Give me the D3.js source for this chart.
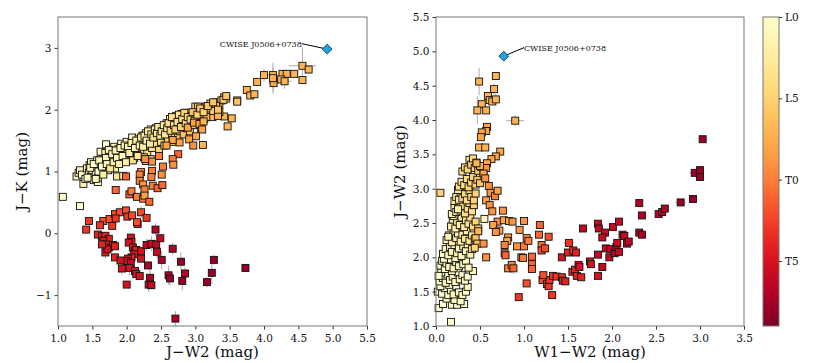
<!DOCTYPE html>
<html>
<head>
<meta charset="utf-8">
<script src="https://cdn.jsdelivr.net/npm/d3@7"></script>
<style>
body { margin: 0; background: #fff; }
text { font-family: "DejaVu Serif", serif; }
</style>
</head>
<body>
<script>
/*global d3*/

// data: [x, y, spectral type (0 = L0, 10 = T0), xerr, yerr]
const leftPts = [
  // upper right tail
  [3.90,2.45,7,0.05,0.05],[4.00,2.56,7,0.06,0.1],[4.13,2.56,7,0.08,0.12],[4.14,2.43,8,0.08,0.12],
  [4.13,2.51,7,0.06,0.25],[4.27,2.58,7,0.06,0.06],[4.33,2.58,7,0.06,0.06],[4.44,2.58,7,0.05,0.05],
  [4.25,2.49,7,0.1,0.1],[4.30,2.46,7,0.1,0.12],[4.56,2.71,7,0.2,0.3],[4.65,2.65,7,0.05,0.05],
  [4.56,2.48,7,0.05,0.06],[3.75,2.32,7],[3.80,2.23,7],[3.86,2.25,7],[3.61,2.15,7],[3.61,2.13,6],
  [3.53,1.86,7],[3.47,1.73,7],[3.42,1.89,7],[3.11,1.43,7],
  // main L band
  [1.07,0.59,0],[1.32,0.44,0],
  [1.27,0.92,1],[1.30,0.98,0],[1.32,1.02,1],[1.35,0.95,0],[1.37,0.80,1],[1.40,0.88,0],[1.42,1.05,1],
  [1.45,0.98,1],[1.46,1.10,0],[1.48,0.92,1],[1.50,1.02,1],[1.48,1.15,2],[1.52,0.86,0],[1.54,1.08,1],
  [1.55,0.97,1],[1.57,1.18,1],[1.58,0.83,0],[1.58,0.90,2],[1.60,1.05,1],[1.61,1.12,2],[1.63,1.25,1],
  [1.62,1.32,1,0.05,0.05],[1.65,0.98,1],[1.66,1.20,2],[1.68,1.08,1],[1.69,1.30,1],[1.70,1.44,0,0.06,0.05],
  [1.72,1.15,2],[1.73,1.02,1],[1.75,1.25,2],[1.77,1.35,1],[1.78,1.10,2],[1.80,1.20,1],[1.82,1.40,1],
  [1.83,1.05,2],[1.85,1.28,2],[1.87,1.15,1],[1.88,1.36,2],[1.90,1.22,2],[1.92,1.45,1],[1.93,1.30,2],
  [1.95,1.18,3],[1.96,1.38,2,0.05,0.05],[1.98,1.25,2],[2.00,1.48,1],[2.01,1.33,3],[2.03,1.20,2],
  [2.05,1.40,2],[2.06,1.28,3],[2.08,1.55,1],[2.10,1.35,2],[2.11,1.22,3],[2.13,1.45,2],[2.15,1.30,3],
  [2.17,1.52,2],[2.18,1.38,3],[2.20,1.25,3],[2.22,1.45,2],[2.23,1.58,2],[2.25,1.35,3],[2.27,1.48,3],
  [2.28,1.62,2],[2.30,1.30,4],[2.32,1.42,3],[2.33,1.55,3],[2.35,1.68,2],[2.37,1.38,4],[2.38,1.50,3],
  [2.40,1.62,3],[2.42,1.45,4],[2.43,1.70,3],[2.45,1.55,3],[2.47,1.35,5],[2.48,1.65,3],[2.50,1.48,4],
  [2.52,1.72,3],[2.53,1.58,4],[2.55,1.42,5],[2.57,1.67,4],[2.58,1.78,3],[2.60,1.52,5],[2.62,1.62,4],
  [2.63,1.85,3],[2.65,1.72,4],[2.67,1.48,6],[2.68,1.80,4],[2.70,1.60,5],[2.72,1.90,3],[2.73,1.70,5],
  [2.75,1.55,6],[2.77,1.85,4],[2.78,1.65,5],[2.80,1.93,4],[2.82,1.75,5],[2.83,1.60,6],[2.85,1.88,5],
  [2.87,1.70,6],[2.88,1.95,4],[2.90,1.80,5],[2.92,1.65,6],[2.95,1.90,5],[2.97,1.75,6],[3.00,2.05,5],
  [3.02,1.85,6],[3.05,1.95,5],[3.08,1.70,7],[3.10,2.00,6],[3.13,1.85,6],[3.15,2.05,6],[3.20,1.95,6],
  [3.22,2.10,6],[3.25,1.88,7],[3.28,2.03,6],[3.30,2.12,6],[3.35,2.08,6],[3.38,2.15,6],[3.42,2.20,6],
  [3.45,2.18,6],[3.41,2.16,6],[3.45,2.22,6],[3.18,2.02,6],[3.30,2.06,6],[3.26,1.98,6],[3.35,1.96,7],
  [3.33,1.90,7],[3.16,1.88,7],[3.06,1.90,6],[3.04,2.05,6],
  [2.28,1.17,6],[2.35,1.20,6],[2.25,1.23,6],[1.86,0.92,3],[1.95,0.93,2],
  [1.43,0.90,0],[1.47,1.06,1],[1.52,1.12,0],[1.55,0.88,1],[1.59,1.00,0],[1.60,1.18,1],[1.64,1.08,0],
  [1.66,0.95,2],[1.70,1.22,1],[1.71,1.12,1],[1.74,1.35,1],[1.76,1.05,3],[1.79,1.28,1],[1.81,1.15,2],
  [1.84,1.34,1],[1.86,1.22,1],[1.89,1.12,2],[1.91,1.38,1],[1.94,1.25,1],[1.97,1.42,2],[1.99,1.15,2],
  [2.02,1.40,1],[2.04,1.30,2],[2.07,1.46,2],[2.09,1.18,4],[2.12,1.38,1],[2.14,1.50,2],[2.16,1.25,3],
  [2.19,1.42,2],[2.21,1.55,3],[2.24,1.40,2],[2.26,1.58,2],[2.29,1.50,2],[2.31,1.65,3],[2.34,1.45,3],
  [2.36,1.60,2],[2.39,1.55,4],[2.41,1.68,2],[2.44,1.62,3],[2.46,1.72,3],[2.49,1.58,3],[2.51,1.65,4],
  [2.54,1.75,2],[2.56,1.60,3],[2.59,1.70,3],[2.61,1.78,4],[2.64,1.66,5],[2.66,1.88,4],[2.69,1.75,3],
  [2.71,1.68,5],[2.74,1.80,4],[2.76,1.92,3],[2.79,1.72,5],[2.81,1.85,4],[2.84,1.95,5],[2.86,1.78,5],
  [2.89,1.88,4],[2.93,1.84,5],[2.96,1.96,6],[2.99,1.82,6],[3.03,1.92,5],[3.07,2.02,6],[3.12,1.96,5],
  [3.18,2.06,6],[3.26,2.12,6],[3.33,2.00,6],
  // orange below the band
  [2.89,1.71,8],[2.98,1.79,8],[3.06,1.77,8],[3.12,1.81,7],[3.10,1.68,8],[3.01,1.57,8],[2.91,1.52,8],
  [2.97,1.42,9],[2.77,1.47,8],[2.67,1.51,8],[2.58,1.42,8],
  // L/T transition
  [2.47,1.25,10],[2.37,1.16,9],[2.27,1.20,9],[2.75,1.28,11],[2.67,1.20,10],[2.68,1.11,9],[2.53,1.08,10],
  [2.51,0.95,9],[2.37,1.01,10],[2.36,0.91,10],[2.21,0.99,9],[2.19,0.95,10],[2.19,0.85,10],[2.38,0.77,10],
  [2.45,0.73,11],[2.52,0.78,11],[2.24,0.79,9],[2.26,0.71,10],[2.04,0.63,11],[2.07,0.68,10],[1.84,0.70,11],
  [1.99,0.92,11],[2.15,0.59,10],[2.24,0.56,10],[2.26,0.61,8],[2.33,0.51,11],
  // T dwarfs
  [1.41,0.06,13],[1.45,0.20,13],[1.66,0.20,12],[1.75,0.23,12],[1.83,0.31,12],[1.90,0.34,12,0,0.08],
  [1.99,0.37,12],[2.01,0.27,13],[2.08,0.29,12],[2.21,0.34,12,0,0.1],[2.29,0.25,13],[2.16,0.15,13],
  [2.15,0.18,12],[1.61,0.13,13],[1.84,0.24,13,0,0.12],[1.79,0.12,13],[1.58,-0.02,14],[1.64,-0.05,14],
  [1.69,-0.04,14],[1.74,-0.09,14],[1.66,-0.12,15],[1.70,-0.18,14],[1.74,-0.23,14],[1.80,-0.19,15],
  [1.83,-0.21,14],[1.69,-0.31,14,0,0.1],[1.72,-0.26,15],[1.64,-0.18,14],[2.06,-0.07,15],[2.07,-0.14,14],
  [2.03,-0.15,15],[2.09,-0.23,15,0,0.1],[2.12,-0.29,15],[2.14,-0.27,14],[2.21,-0.29,15],[2.11,-0.34,15],
  [2.07,-0.39,14],[2.02,-0.41,15],[2.00,-0.45,15],[2.06,-0.48,16],[1.83,-0.39,14],[1.91,-0.44,15],
  [1.93,-0.57,15,0,0.1],[2.04,-0.56,15,0,0.12],[2.12,-0.61,15],[2.14,-0.66,15,0,0.1],[2.19,-0.69,15],
  [2.21,-0.41,15],[2.00,-0.83,15],
  [2.29,-0.19,16,0,0.1],[2.36,-0.17,16,0,0.12],[2.43,-0.18,16],[2.42,0.06,17,0,0.1],[2.49,-0.08,16],
  [2.44,-0.30,16,0,0.1],[2.51,-0.43,17,0,0.15],[2.31,-0.52,17],[2.34,-0.72,17,0,0.18],[2.32,-0.83,17,0,0.12],
  [2.36,-0.84,16],[2.67,-0.25,17,0,0.1],[2.61,-0.68,17,0,0.15],[2.63,-0.73,18,0,0.12],[2.79,-0.46,18,0,0.15],
  [2.81,-0.77,18,0,0.15],[2.85,-0.65,17,0,0.1],[2.71,-1.38,17,0,0.12],[3.17,-0.79,18,0,0.08],
  [3.24,-0.64,18,0,0.18],[3.27,-0.43,18,0,0.08],[3.73,-0.56,18,0,0.06]
];

const rightPts = [
  // L dwarf clump
  [0.17,1.06,0],[0.03,1.26,0],[0.08,1.32,0],[0.18,1.31,0],[0.24,1.31,0],[0.32,1.32,0],[0.12,1.40,0],
  [0.21,1.38,1],[0.28,1.36,0],
  [0.02,1.50,0,0.04,0],[0.07,1.47,0],[0.10,1.55,1],[0.14,1.45,0],[0.17,1.52,0],[0.20,1.46,1],[0.23,1.58,0],
  [0.26,1.49,0],[0.30,1.45,1],[0.34,1.50,0],[0.36,1.57,1],[0.15,1.60,0],[0.05,1.58,0],
  [0.04,1.65,0],[0.08,1.70,0],[0.11,1.63,1],[0.13,1.75,0],[0.16,1.67,0],[0.19,1.72,1],[0.22,1.64,0],
  [0.25,1.78,0],[0.27,1.68,1],[0.30,1.74,0],[0.33,1.66,1],[0.36,1.72,0],[0.06,1.78,0],[0.18,1.80,1],
  [0.42,1.80,1,0.04,0],[0.03,1.73,0],
  [0.05,1.88,0],[0.07,1.95,1],[0.10,1.83,0],[0.12,1.91,0],[0.15,1.86,1],[0.17,1.97,0],[0.20,1.84,1],
  [0.23,1.93,0],[0.26,1.87,1],[0.28,1.98,1],[0.31,1.90,0],[0.34,1.95,1],[0.37,1.85,1],[0.09,1.98,0],
  [0.22,1.99,1],
  [0.08,2.05,0],[0.11,2.12,1],[0.14,2.03,1],[0.16,2.15,0],[0.18,2.08,1],[0.21,2.18,1],[0.24,2.06,2],
  [0.26,2.13,1],[0.29,2.02,1],[0.31,2.16,2],[0.34,2.09,1],[0.36,2.19,2],[0.39,2.04,2],[0.41,2.12,3],
  [0.12,2.25,1],[0.15,2.32,1],[0.18,2.22,2],[0.20,2.37,1],[0.23,2.28,2],[0.25,2.35,2],[0.28,2.23,2],
  [0.30,2.33,2],[0.33,2.27,3],[0.35,2.38,2],[0.38,2.24,3],[0.41,2.32,3],[0.44,2.26,4],[0.14,2.30,1],
  [0.17,2.45,2],[0.19,2.55,2],[0.22,2.42,2],[0.24,2.52,3],[0.27,2.47,2],[0.29,2.58,3],[0.32,2.44,3],
  [0.34,2.54,3],[0.37,2.49,3],[0.39,2.58,4],[0.42,2.45,4],[0.45,2.52,5],[0.20,2.60,2],
  [0.18,2.63,2],[0.21,2.72,3],[0.23,2.66,3],[0.26,2.78,3],[0.28,2.68,3],[0.31,2.75,4],[0.33,2.64,4],
  [0.36,2.71,4],[0.38,2.79,4],[0.41,2.67,4],[0.43,2.76,5],[0.25,2.70,2],
  [0.21,2.82,3],[0.23,2.88,3],[0.26,2.84,3],[0.28,2.94,4],[0.30,2.86,4],[0.33,2.92,4],[0.35,2.83,4],
  [0.38,2.97,4],[0.40,2.88,5],[0.43,2.83,5],[0.45,2.93,5],[0.25,2.98,3],
  [0.26,3.03,4],[0.29,3.10,4],[0.32,3.05,4],[0.35,3.14,4],[0.37,3.02,5],[0.40,3.09,5],[0.42,3.17,5],
  [0.45,3.06,5],[0.47,3.13,6],[0.50,3.08,6],
  [0.30,3.25,4],[0.33,3.31,5],[0.36,3.28,5],[0.38,3.42,4],[0.40,3.35,5],[0.42,3.44,4],[0.44,3.30,5],
  [0.46,3.38,5],[0.48,3.26,6],[0.51,3.32,6],[0.54,3.24,6],
  [0.55,2.56,1],[0.05,2.94,5],
  [0.48,2.42,6],[0.45,2.28,6],[0.47,2.20,6],[0.44,2.14,5],
  // orange spike
  [0.49,4.56,7,0.02,0.2],[0.68,4.64,7],[0.66,4.45,7,0.02,0.08],[0.59,4.35,7],[0.52,4.23,7],
  [0.47,4.14,7,0.02,0.2],[0.57,4.14,7],[0.61,4.29,7],[0.64,4.27,7],[0.68,4.30,7,0.02,0.08],
  [0.58,3.90,8],[0.57,3.84,8],[0.52,3.82,8],[0.51,3.75,8],[0.49,3.60,7],[0.56,3.60,7],
  [0.90,3.99,7,0.1,0.08],[0.73,3.54,8],[0.68,3.47,8],[0.63,3.43,8],[0.58,3.37,8],[0.57,3.30,9],
  [0.50,3.33,7],[0.46,3.37,7],[0.54,3.22,8],[0.56,3.15,9],[0.60,3.04,9],[0.62,2.94,9],[0.67,2.89,10],
  [0.70,2.97,8],[0.57,2.83,8],[0.61,2.76,9],[0.64,2.67,9],[0.76,2.68,9],[0.70,2.52,9],[0.65,2.47,8],
  [0.72,2.39,8],[0.68,2.37,9],[0.77,2.54,8],[0.83,2.53,8],[0.87,2.52,9],[1.00,2.53,9],[0.95,2.40,9],
  [0.82,2.29,9],[0.81,2.24,8],[0.78,2.18,10],[0.92,2.16,9],[1.00,2.16,10],[1.03,2.28,9],[1.05,2.24,10],
  [0.78,2.06,11],[0.79,2.03,11],[0.97,2.00,10],[0.99,1.99,10],[0.57,2.00,9,0.05,0.05],[0.54,2.20,9],
  [0.48,2.38,7],
  // T dwarfs
  [0.82,1.84,10,0.05,0.05],[0.86,1.89,10],[0.88,1.84,11,0.02,0.08],[0.94,1.42,13],[1.03,1.62,12,0.05,0],
  [1.09,2.01,11],[1.09,1.90,11],[1.09,1.83,11],[1.18,2.47,11],[1.17,2.33,11],[1.20,2.18,11],
  [1.20,2.10,12],[1.24,2.13,12],[1.28,2.30,12],[1.21,1.67,12],[1.26,1.61,13],[1.28,1.58,13],
  [1.29,1.67,13],[1.22,1.74,12],[1.32,1.45,13,0.04,0],[1.33,1.73,13],[1.37,1.72,13],[1.43,1.71,13],
  [1.44,1.66,14],[1.47,1.65,14],[1.43,2.00,15],[1.51,2.21,13,0.06,0.04],[1.50,2.07,14],[1.56,2.10,13],
  [1.59,2.07,14],[1.55,1.79,14],[1.58,1.82,14],[1.60,1.73,14],[1.62,1.89,15],[1.63,1.86,15],
  [1.65,1.71,14,0.05,0],[1.75,1.94,15],[1.76,1.90,15],[1.67,2.42,16,0.04,0.03],[1.84,1.73,15,0.04,0],
  [1.89,1.86,16],[1.84,2.49,16],[1.85,2.42,16],[1.84,2.04,16],[1.92,2.36,16],[1.89,2.29,16],
  [1.93,2.13,16],[1.97,2.00,16],[1.98,2.12,16],[2.01,2.44,16],[2.08,2.52,16],[2.03,2.06,17],
  [2.05,2.15,16],[2.06,2.21,16],[2.08,2.08,16],[2.12,2.33,16,0.05,0],[2.14,2.31,16],[2.17,2.20,16],
  [2.19,2.23,16],[2.31,2.79,17],[2.34,2.61,17],[2.31,2.36,17,0.04,0],[2.34,2.33,17],[2.53,2.63,17],
  [2.57,2.66,17],[2.60,2.71,17],[2.78,2.80,18,0.06,0],[2.92,2.85,18,0.05,0],[2.94,3.23,18,0.06,0],
  [3.00,3.27,18],[3.00,3.17,18],[3.03,3.72,18]
];

// the target object
const targetLeft = [4.92, 2.98];
const targetRight = [0.77, 4.93];
const targetName = "CWISE J0506+0738";

const leftXTicks = [1.0, 1.5, 2.0, 2.5, 3.0, 3.5, 4.0, 4.5, 5.0, 5.5];
const leftYTicks = [-1, 0, 1, 2, 3];
const rightXTicks = [0.0, 0.5, 1.0, 1.5, 2.0, 2.5, 3.0, 3.5];
const rightYTicks = [1.0, 1.5, 2.0, 2.5, 3.0, 3.5, 4.0, 4.5, 5.0, 5.5];
const cbTicks = [0, 5, 10, 15];
const cbLabels = ["L0", "L5", "T0", "T5"];

const W = 830, H = 363;
const svg = d3.select("body").append("svg").attr("width", W).attr("height", H);

const color = d3.scaleSequential(d3.interpolateYlOrRd).domain([0, 19]);

function drawPanel(o) {
  const x = d3.scaleLinear().domain(o.xDomain).range([o.left, o.right]);
  const y = d3.scaleLinear().domain(o.yDomain).range([o.bottom, o.top]);
  const g = svg.append("g");

  // error bars
  const eb = g.append("g").attr("stroke", "#999").attr("stroke-width", 1).attr("opacity", 0.8);
  o.data.filter(d => d[3]).forEach(d => {
    eb.append("line").attr("x1", x(d[0] - d[3])).attr("x2", x(d[0] + d[3]))
      .attr("y1", y(d[1])).attr("y2", y(d[1]));
  });
  o.data.filter(d => d[4]).forEach(d => {
    eb.append("line").attr("x1", x(d[0])).attr("x2", x(d[0]))
      .attr("y1", y(d[1] - d[4])).attr("y2", y(d[1] + d[4]));
  });

  // squares
  const s = 7;
  g.append("g").selectAll("rect").data(o.data).join("rect")
    .attr("x", d => x(d[0]) - s / 2)
    .attr("y", d => y(d[1]) - s / 2)
    .attr("width", s).attr("height", s)
    .attr("fill", d => color(d[2]))
    .attr("stroke", "#111").attr("stroke-width", 0.9);

  // annotation
  const tx = x(o.target[0]), ty = y(o.target[1]);
  g.append("line").attr("x1", x(o.label[0])).attr("y1", y(o.label[1]) - 3)
    .attr("x2", tx).attr("y2", ty).attr("stroke", "#000").attr("stroke-width", 1);
  g.append("text").attr("x", x(o.label[0])).attr("y", y(o.label[1]))
    .attr("text-anchor", o.anchor).attr("font-size", 8).attr("fill", "#111")
    .text(targetName);
  g.append("path").attr("d", d3.symbol(d3.symbolDiamond2, 62)())
    .attr("transform", `translate(${tx},${ty})`)
    .attr("fill", "#1ea5e0").attr("stroke", "#0a2a44").attr("stroke-width", 0.8);

  // axes
  const xAxis = d3.axisBottom(x).tickValues(o.xTicks).tickSize(3.5).tickFormat(d3.format(".1f"));
  const yAxis = d3.axisLeft(y).tickValues(o.yTicks).tickSize(3.5).tickFormat(o.yFormat);
  const ax = g.append("g").attr("transform", `translate(0,${o.bottom})`).call(xAxis);
  const ay = g.append("g").attr("transform", `translate(${o.left},0)`).call(yAxis);
  [ax, ay].forEach(a => {
    a.select(".domain").remove();
    a.selectAll("text").attr("font-family", "DejaVu Serif").attr("font-size", 10.5).attr("fill", "#111");
    a.selectAll("line").attr("stroke", "#333");
  });
  ax.selectAll("text").attr("dy", "0.95em");

  g.append("rect").attr("x", o.left).attr("y", o.top)
    .attr("width", o.right - o.left).attr("height", o.bottom - o.top)
    .attr("fill", "none").attr("stroke", "#777").attr("stroke-width", 1);

  g.append("text").attr("x", (o.left + o.right) / 2).attr("y", 357)
    .attr("text-anchor", "middle").attr("font-size", 15).attr("fill", "#111")
    .text(o.xLabel);
  g.append("text")
    .attr("transform", `translate(${o.left - 31},${(o.top + o.bottom) / 2}) rotate(-90)`)
    .attr("text-anchor", "middle").attr("font-size", 15).attr("fill", "#111")
    .text(o.yLabel);
}

drawPanel({
  data: leftPts, xDomain: [1.0, 5.5], yDomain: [-1.5, 3.5],
  left: 58, right: 367, top: 17, bottom: 326,
  xTicks: leftXTicks, yTicks: leftYTicks, yFormat: d3.format("d"),
  target: targetLeft, label: [4.55, 3.02], anchor: "end",
  xLabel: "J\u2212W2 (mag)", yLabel: "J\u2212K (mag)"
});

drawPanel({
  data: rightPts, xDomain: [0, 3.5], yDomain: [1.0, 5.5],
  left: 436, right: 744, top: 17, bottom: 326,
  xTicks: rightXTicks, yTicks: rightYTicks, yFormat: d3.format(".1f"),
  target: targetRight, label: [1.0, 5.01], anchor: "start",
  xLabel: "W1\u2212W2 (mag)", yLabel: "J\u2212W2 (mag)"
});

// colour bar
const cb = { left: 763, right: 779, top: 17, bottom: 326 };
const cy = d3.scaleLinear().domain([0, 19]).range([cb.top, cb.bottom]);
const grad = svg.append("defs").append("linearGradient").attr("id", "cbgrad")
  .attr("x1", 0).attr("y1", 0).attr("x2", 0).attr("y2", 1);
d3.range(0, 1.0001, 0.05).forEach(t => {
  grad.append("stop").attr("offset", t).attr("stop-color", color(t * 19));
});
svg.append("rect").attr("x", cb.left).attr("y", cb.top)
  .attr("width", cb.right - cb.left).attr("height", cb.bottom - cb.top)
  .attr("fill", "url(#cbgrad)").attr("stroke", "#777").attr("stroke-width", 1);
const cAxis = d3.axisRight(cy).tickValues(cbTicks).tickSize(3).tickFormat((d, i) => cbLabels[i]);
const cg = svg.append("g").attr("transform", `translate(${cb.right},0)`).call(cAxis);
cg.select(".domain").remove();
cg.selectAll("text").attr("font-family", "DejaVu Serif").attr("font-size", 10.5).attr("fill", "#111");
cg.selectAll("line").attr("stroke", "#333");
</script>
</body>
</html>
